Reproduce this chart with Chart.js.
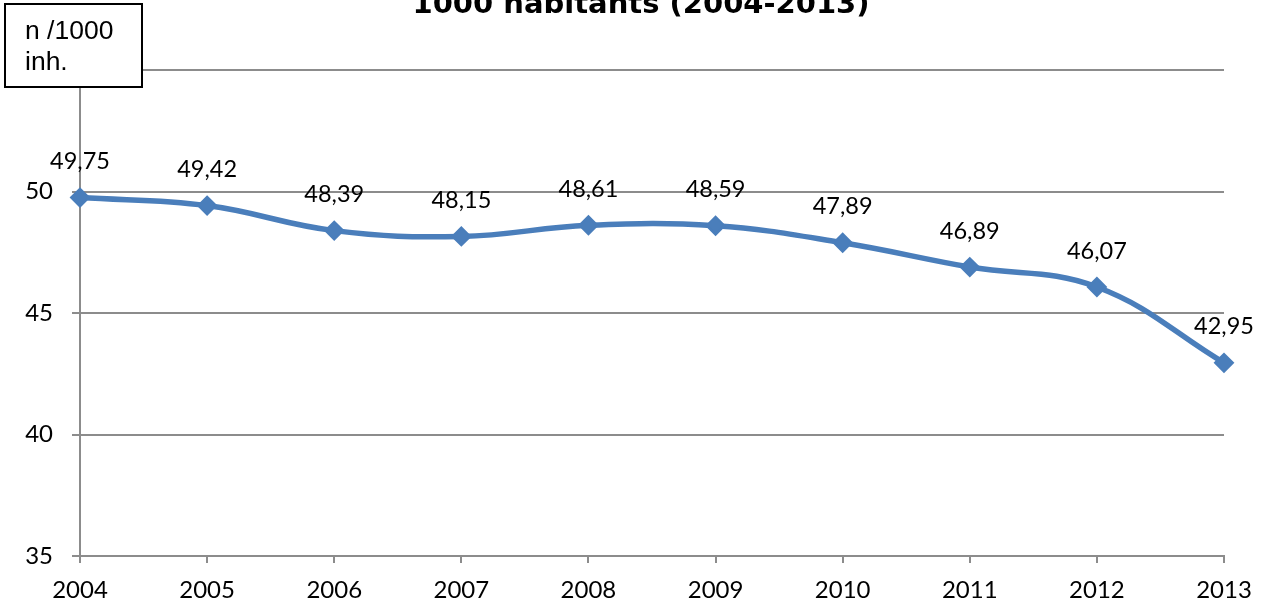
<!DOCTYPE html>
<html>
<head>
<meta charset="utf-8">
<title>n /1000 inh. 2004-2013</title>
<script src="https://cdn.jsdelivr.net/npm/chart.js@4"></script>
<style>
    html, body { margin: 0; padding: 0; background: #fff; }
    #wrap { width: 1263px; height: 605px; position: relative; }
</style>
</head>
<body>
<div id="wrap"><canvas id="rateChart" width="1263" height="605"></canvas></div>
<script>
// --- Datos ---
const years = ['2004', '2005', '2006', '2007', '2008', '2009', '2010', '2011', '2012', '2013'];
const rates = [49.75, 49.42, 48.39, 48.15, 48.61, 48.59, 47.89, 46.89, 46.07, 42.95];
const yTicks = [35, 40, 45, 50, 55];
const titleText = '1000 habitants (2004-2013)';
const unitLines = ['n /1000', 'inh.'];

// --- Estilos ---
const LINE_BLUE = '#4a7ebb';
const GRID_GREY = '#8c8c8c';
const LABEL_FONT = 'Lato, "Noto Sans", sans-serif';

// formato con coma decimal
function fmt(v) {
    return v.toFixed(2).replace('.', ',');
}

// Etiquetas de valor sobre cada punto
const valueLabels = {
    id: 'valueLabels',
    afterDatasetsDraw(chart) {
        const ctx = chart.ctx;
        const meta = chart.getDatasetMeta(0);
        ctx.save();
        ctx.font = '23.5px ' + LABEL_FONT;
        ctx.fillStyle = '#000';
        ctx.textAlign = 'center';
        ctx.textBaseline = 'middle';
        meta.data.forEach((pt, i) => {
            ctx.fillText(fmt(rates[i]), pt.x, pt.y - 36);
        });
        ctx.restore();
    }
};

// Título (segunda línea) y recuadro de unidades
const decorations = {
    id: 'decorations',
    afterDraw(chart) {
        const ctx = chart.ctx;
        ctx.save();
        ctx.font = 'bold 29px "DejaVu Sans", sans-serif';
        ctx.fillStyle = '#000';
        ctx.textAlign = 'center';
        ctx.textBaseline = 'alphabetic';
        ctx.fillText(titleText, 641, 13);

        ctx.fillStyle = '#fff';
        ctx.fillRect(5, 4, 137, 83);
        ctx.strokeStyle = '#000';
        ctx.lineWidth = 2;
        ctx.strokeRect(5, 4, 137, 83);
        ctx.fillStyle = '#000';
        ctx.font = '26.5px "Liberation Sans", Arial, sans-serif';
        ctx.textAlign = 'left';
        ctx.fillText(unitLines[0], 25, 39);
        ctx.fillText(unitLines[1], 25, 70);
        ctx.restore();
    }
};

function renderRateChart() {
    const ctx = document.getElementById('rateChart').getContext('2d');
    new Chart(ctx, {
        type: 'line',
        data: {
            labels: years,
            datasets: [{
                data: rates,
                borderColor: LINE_BLUE,
                backgroundColor: LINE_BLUE,
                borderWidth: 5.5,
                tension: 0.4,
                pointStyle: 'rectRot',
                pointRadius: 9,
                pointBorderWidth: 2,
                pointBackgroundColor: LINE_BLUE,
                pointBorderColor: LINE_BLUE,
                clip: false
            }]
        },
        options: {
            responsive: false,
            animation: false,
            layout: { padding: { top: 70, right: 39, left: 0, bottom: 0 } },
            plugins: {
                legend: { display: false },
                title: { display: false },
                tooltip: { enabled: false }
            },
            scales: {
                x: {
                    offset: false,
                    afterFit(scale) {
                        scale.height = 49;
                        scale.paddingLeft = 0;
                        scale.paddingRight = 0;
                    },
                    grid: {
                        drawOnChartArea: false,
                        drawTicks: true,
                        tickLength: 7,
                        color: GRID_GREY,
                        lineWidth: 2
                    },
                    border: { color: GRID_GREY, width: 2 },
                    ticks: {
                        color: '#000',
                        padding: 13,
                        maxRotation: 0,
                        autoSkip: false,
                        font: { family: LABEL_FONT, size: 24 }
                    }
                },
                y: {
                    min: 35,
                    max: 55,
                    afterFit(scale) { scale.width = 80; },
                    afterBuildTicks(scale) {
                        scale.ticks = yTicks.map(v => ({ value: v }));
                    },
                    grid: {
                        drawTicks: true,
                        tickLength: 8,
                        color: GRID_GREY,
                        lineWidth: 2
                    },
                    border: { color: GRID_GREY, width: 2 },
                    ticks: {
                        color: '#000',
                        padding: 19,
                        font: { family: LABEL_FONT, size: 24 }
                    }
                }
            }
        },
        plugins: [valueLabels, decorations]
    });
}

window.onload = renderRateChart;
</script>
</body>
</html>
